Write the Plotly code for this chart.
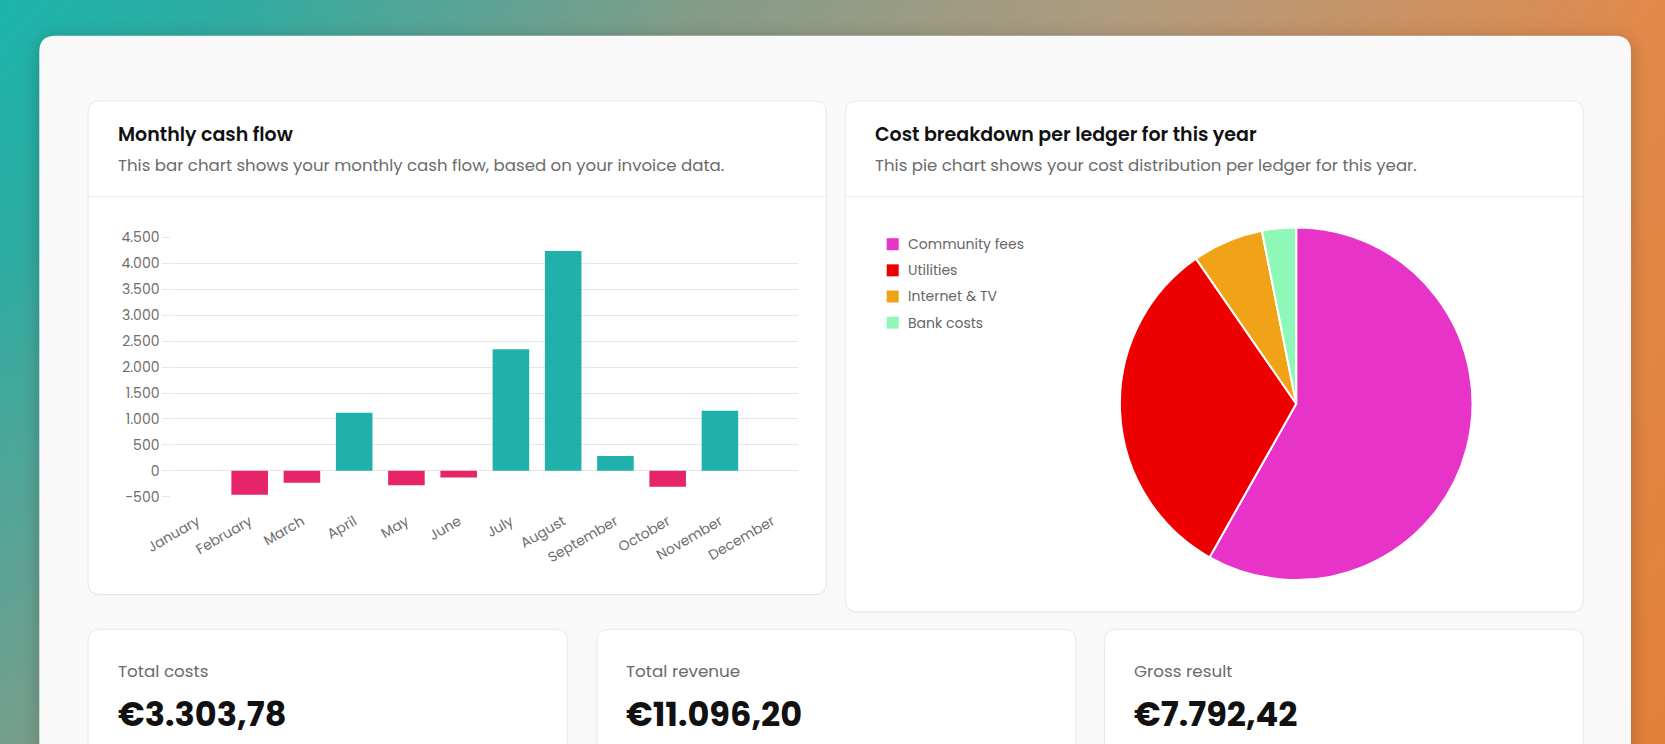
import base64
import plotly.graph_objects as go

W, H = 1665, 744

# ---------------- data ----------------
months = ["January", "February", "March", "April", "May", "June",
          "July", "August", "September", "October", "November", "December"]
cash_flow = [0, -463, -230, 1118, -277, -129, 2343, 4238, 286, -306, 1157, 0]
y_tick_values = [-500, 0, 500, 1000, 1500, 2000, 2500, 3000, 3500, 4000, 4500]

ledgers = ["Community fees", "Utilities", "Internet & TV", "Bank costs"]
ledger_costs = [1922, 1064, 215, 103]
ledger_colors = ["#e733c8", "#ee0000", "#f0a316", "#8ff8b8"]

kpi_labels = ["Total costs", "Total revenue", "Gross result"]
kpi_values = [3303.78, 11096.20, 7792.42]

# ---------------- styles ----------------
FONT = "Poppins, Inter, sans-serif"
POS_COLOR = "#20b2aa"
NEG_COLOR = "#e6246a"
GRID = "#e6e6e6"
TICK_TXT = "#6e6e6e"
SUB_TXT = "#6b6b6b"


def fx(px):
    return px / W


def fy(py):
    return 1 - py / H


def nl_thousands(v):
    s = f"{abs(int(v)):,}".replace(",", ".")
    return ("-" if v < 0 else "") + s


def euro(v):
    s = f"{v:,.2f}"
    s = s.replace(",", "X").replace(".", ",").replace("X", ".")
    return "€" + s


def rrect(x0, y0, x1, y1, r):
    pts = [
        ("M", [(x0 + r, y0)]), ("L", [(x1 - r, y0)]), ("Q", [(x1, y0), (x1, y0 + r)]),
        ("L", [(x1, y1 - r)]), ("Q", [(x1, y1), (x1 - r, y1)]),
        ("L", [(x0 + r, y1)]), ("Q", [(x0, y1), (x0, y1 - r)]),
        ("L", [(x0, y0 + r)]), ("Q", [(x0, y0), (x0 + r, y0)]),
    ]
    out = []
    for cmd, ps in pts:
        out.append(cmd + " " + " ".join(f"{fx(a):.6f},{fy(b):.6f}" for a, b in ps))
    return " ".join(out) + " Z"


# ---------------- background gradient (as svg image) ----------------
svg = f'''<svg xmlns="http://www.w3.org/2000/svg" width="{W}" height="{H}" viewBox="0 0 {W} {H}" preserveAspectRatio="none">
<defs>
<linearGradient id="g" gradientUnits="userSpaceOnUse" x1="0" y1="0" x2="1665" y2="1400">
<stop offset="0" stop-color="#1cb5ab"/>
<stop offset="0.08" stop-color="#2eaca2"/>
<stop offset="0.25" stop-color="#849c88"/>
<stop offset="0.40" stop-color="#b09b7e"/>
<stop offset="0.58" stop-color="#e08a4c"/>
<stop offset="1" stop-color="#e4782a"/>
</linearGradient>
<filter id="b" x="-10%" y="-10%" width="120%" height="120%"><feGaussianBlur stdDeviation="9"/></filter>
</defs>
<rect width="{W}" height="{H}" fill="url(#g)"/>
<rect x="39" y="38" width="1592" height="800" rx="16" fill="#000" opacity="0.22" filter="url(#b)"/>
</svg>'''
bg_src = "data:image/svg+xml;base64," + base64.b64encode(svg.encode()).decode()

fig = go.Figure()

# ---------------- bar chart ----------------
fig.add_trace(go.Bar(
    x=months, y=cash_flow,
    marker=dict(color=[POS_COLOR if v >= 0 else NEG_COLOR for v in cash_flow], line=dict(width=0)),
    xaxis="x", yaxis="y", showlegend=False, hoverinfo="x+y",
))

# ---------------- pie chart ----------------
cx, cy, r = 1296.2, 403.7, 176.3
fig.add_trace(go.Pie(
    labels=ledgers, values=ledger_costs,
    marker=dict(colors=ledger_colors, line=dict(color="white", width=2)),
    sort=False, direction="clockwise", rotation=0,
    textinfo="none", showlegend=False,
    domain=dict(x=[fx(cx - r), fx(cx + r)], y=[fy(cy + r), fy(cy - r)]),
))

shapes = []
# outer panel
px0, py0, px1, rr = 39.3, 35.7, 1631.0, 16
shapes.append(dict(type="path", xref="paper", yref="paper", layer="below",
                   path=rrect(px0, py0, px1, H + 40, rr), fillcolor="#f9f9f9", line=dict(width=0)))
# cards
cards = [(88.1, 100.9, 826.4, 594.5), (845.3, 100.9, 1583.3, 611.7),
         (88.1, 629.3, 567.3, 790), (596.9, 629.3, 1075.8, 790), (1104.5, 629.3, 1583.3, 790)]
for (a, b, c, d) in cards:
    shapes.append(dict(type="path", xref="paper", yref="paper", layer="below",
                       path=rrect(a, b + 1.5, c, d + 1.5, 12), fillcolor="rgba(0,0,0,0.025)", line=dict(width=0)))
    shapes.append(dict(type="path", xref="paper", yref="paper", layer="below",
                       path=rrect(a, b, c, d, 12), fillcolor="white", line=dict(color="#e8e8e8", width=1)))
# header dividers
for (a, c) in [(88.1, 826.4), (845.3, 1583.3)]:
    shapes.append(dict(type="line", xref="paper", yref="paper", layer="below",
                       x0=fx(a), x1=fx(c), y0=fy(196.5), y1=fy(196.5), line=dict(color="#ebebeb", width=1)))

annotations = []


def text(x, y, s, size, color, weight=400):
    annotations.append(dict(xref="paper", yref="paper", x=fx(x), y=fy(y), text=s,
                            showarrow=False, xanchor="left", yanchor="middle",
                            font=dict(family=FONT, size=size, color=color, weight=weight)))


text(115.5, 134.9, "Monthly cash flow", 19, "#111111", 600)
text(115.5, 165.7, "This bar chart shows your monthly cash flow, based on your invoice data.", 16.6, SUB_TXT)
text(872.5, 134.9, "Cost breakdown per ledger for this year", 19, "#111111", 600)
text(872.5, 165.7, "This pie chart shows your cost distribution per ledger for this year.", 16.6, SUB_TXT)

# pie legend
for i, (lab, col) in enumerate(zip(ledgers, ledger_colors)):
    yc = 244.2 + i * 26.15
    shapes.append(dict(type="rect", xref="paper", yref="paper", layer="above",
                       x0=fx(886.7), x1=fx(898.7), y0=fy(yc - 6), y1=fy(yc + 6),
                       fillcolor=col, line=dict(width=0)))
    text(905.5, yc, lab, 14, "#666666")

# KPI cards
kpi_x = [115.5, 624.0, 1131.8]
for lx, lab, val in zip(kpi_x, kpi_labels, kpi_values):
    text(lx, 671.0, lab, 16.8, SUB_TXT)
    text(lx, 714.7, euro(val), 33.6, "#111111", 700)

fig.update_layout(
    width=W, height=H, margin=dict(l=0, r=0, t=0, b=0, autoexpand=False),
    paper_bgcolor="#f9f9f9", plot_bgcolor="rgba(0,0,0,0)",
    font=dict(family=FONT, color=TICK_TXT),
    separators=",.", bargap=0.3, showlegend=False,
    images=[dict(source=bg_src, xref="paper", yref="paper", x=0, y=1, sizex=1, sizey=1,
                 xanchor="left", yanchor="top", sizing="stretch", layer="below")],
    shapes=shapes, annotations=annotations,
    xaxis=dict(domain=[fx(171.3), fx(798.3)], anchor="y", showgrid=False, showline=False,
               zeroline=False, ticks="", tickangle=-30, automargin=False, ticklabelstandoff=13,
               tickfont=dict(family=FONT, size=14, color=TICK_TXT), fixedrange=True),
    yaxis=dict(domain=[fy(496.7), fy(237.5)], anchor="x", range=[-500, 4500], automargin=False,
               tickvals=y_tick_values, ticktext=[nl_thousands(v) for v in y_tick_values],
               showgrid=True, gridcolor=GRID, gridwidth=1,
               zeroline=True, zerolinecolor=GRID, zerolinewidth=1,
               ticks="outside", ticklen=8, tickcolor=GRID, tickwidth=1,
               showline=False, tickfont=dict(family=FONT, size=14, color=TICK_TXT), fixedrange=True),
)

fig.write_html("out.html")
